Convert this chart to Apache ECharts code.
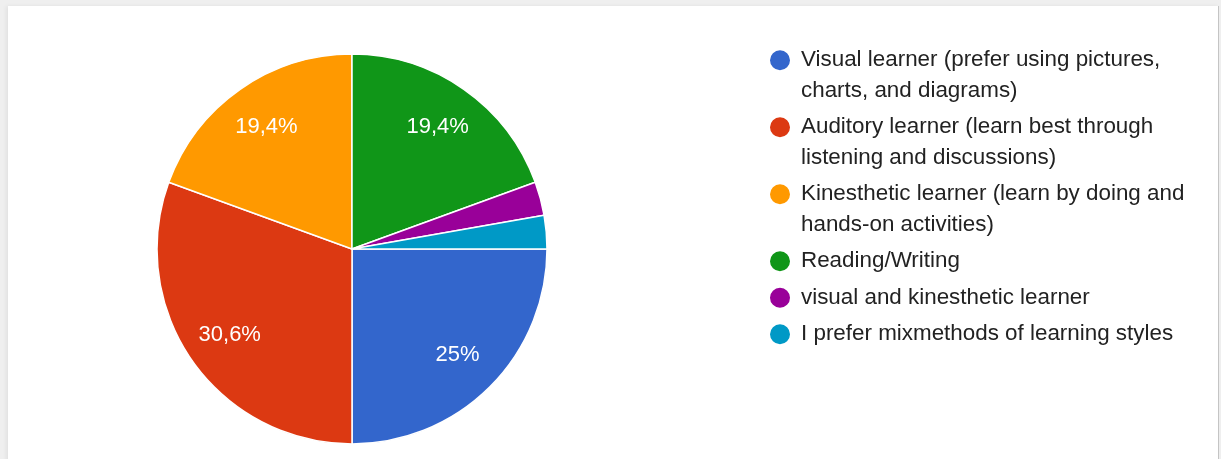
<!DOCTYPE html>
<html>
<head>
<meta charset="utf-8">
<title>Learning styles</title>
<script src="https://cdn.jsdelivr.net/npm/echarts@6/dist/echarts.min.js"></script>
<style>
  html, body { margin: 0; padding: 0; width: 1221px; height: 459px; overflow: hidden; background: #efefef; }
  #card { position: absolute; left: 8px; top: 6px; width: 1210px; height: 460px; background: #fff; border-right: 1px solid #c4c4c4; box-shadow: -2px 0 4px rgba(0,0,0,0.06); }
  #chart { position: absolute; left: 0; top: 0; width: 1221px; height: 459px; }
</style>
</head>
<body>
<div id="card"></div>
<div id="chart"></div>
<script>
// Answer options, in legend order
const categories = [
  'Visual learner (prefer using pictures, charts, and diagrams)',
  'Auditory learner (learn best through listening and discussions)',
  'Kinesthetic learner (learn by doing and hands-on activities)',
  'Reading/Writing',
  'visual and kinesthetic learner',
  'I prefer mixmethods of learning styles'
];

// Legend text as it wraps on screen
const legendLabels = [
  'Visual learner (prefer using pictures,\ncharts, and diagrams)',
  'Auditory learner (learn best through\nlistening and discussions)',
  'Kinesthetic learner (learn by doing and\nhands-on activities)',
  'Reading/Writing',
  'visual and kinesthetic learner',
  'I prefer mixmethods of learning styles'
];

// Number of responses per option (36 in total)
const counts = [9, 11, 7, 7, 1, 1];

const palette = ['#3366cc', '#dc3912', '#ff9900', '#109618', '#990099', '#0099c6'];

const FONT = "Arial, 'Liberation Sans', sans-serif";
const total = counts.reduce((a, b) => a + b, 0);

// Percent text in the "19,4%" style; slivers under 5% stay unlabeled
function pctText(v) {
  const p = Math.round(v / total * 1000) / 10;
  return p < 5 ? '' : String(p).replace('.', ',') + '%';
}

const pieData = categories.map((name, i) => ({ name: name, value: counts[i] }));

const CX = 352, CY = 249, R = 195;
const LINE_H = 30.5, ITEM_GAP = 6;

// One legend block per entry so the marker sits beside the first text line
const legends = [];
let lineCenter = 60;
categories.forEach((name, i) => {
  const nLines = legendLabels[i].split('\n').length;
  const extra = (nLines - 1) * LINE_H;
  legends.push({
    orient: 'vertical',
    left: 768,
    top: lineCenter - 15 - extra,
    padding: 0,
    icon: 'circle',
    itemWidth: 32,
    itemHeight: 22,
    selectedMode: false,
    data: [name],
    formatter: () => legendLabels[i],
    textStyle: {
      fontFamily: FONT,
      fontSize: 22.4,
      color: '#222',
      lineHeight: LINE_H,
      padding: [extra, 0, 0, 0],
      rich: { t: {} }
    }
  });
  lineCenter += nLines * LINE_H + ITEM_GAP;
});

const chart = echarts.init(document.getElementById('chart'), null, { renderer: 'canvas' });
chart.setOption({
  animation: false,
  color: palette,
  backgroundColor: 'transparent',
  legend: legends,
  series: [
    {
      type: 'pie',
      center: [CX, CY],
      radius: R,
      startAngle: 0,
      clockwise: true,
      data: pieData,
      label: { show: false },
      labelLine: { show: false },
      itemStyle: { borderColor: '#ffffff', borderWidth: 1.5 },
      emphasis: { disabled: true }
    },
    {
      // label ring: places the percentages at three quarters of the radius
      type: 'pie',
      center: [CX, CY],
      radius: [R / 2, R],
      startAngle: 0,
      clockwise: true,
      silent: true,
      data: pieData,
      itemStyle: { color: 'transparent', borderWidth: 0 },
      labelLine: { show: false },
      label: {
        show: true,
        position: 'inside',
        formatter: (p) => pctText(p.value),
        color: '#ffffff',
        fontFamily: FONT,
        fontSize: 22,
        textBorderWidth: 0
      },
      emphasis: { disabled: true }
    }
  ]
});
</script>
</body>
</html>
